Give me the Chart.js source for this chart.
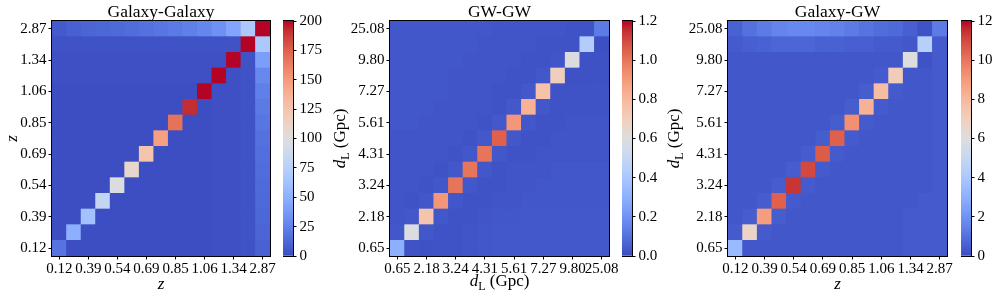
<!DOCTYPE html>
<html>
<head>
<meta charset="utf-8">
<script src="https://cdn.jsdelivr.net/npm/chart.js@4"></script>
<style>
  body { margin: 0; background: #fff; width: 996px; height: 298px; overflow: hidden; position: relative; }
  canvas { position: absolute; top: 0; }
</style>
</head>
<body>
<canvas id="gg" width="290" height="298" style="left:0px;width:290px;height:298px"></canvas>
<canvas id="ggBar" width="45" height="298" style="left:283px;width:45px;height:298px"></canvas>
<canvas id="gw" width="300" height="298" style="left:330px;width:300px;height:298px"></canvas>
<canvas id="gwBar" width="45" height="298" style="left:622px;width:45px;height:298px"></canvas>
<canvas id="ggw" width="300" height="298" style="left:664px;width:300px;height:298px"></canvas>
<canvas id="ggwBar" width="35" height="298" style="left:961px;width:35px;height:298px"></canvas>
<script>
// tick labels (every other bin)
const zTicks = ['0.12', '0.39', '0.54', '0.69', '0.85', '1.06', '1.34', '2.87'];
const dlTicks = ['0.65', '2.18', '3.24', '4.31', '5.61', '7.27', '9.80', '25.08'];

// rows go bottom -> top, columns left -> right
const galaxyGalaxy = [
    [18, 1, 1, 1, 1, 1, 1, 1, 1, 1, 1, 2, 2, 3, 10],
    [1, 50, 1, 1, 1, 1, 1, 1, 1, 1, 1, 2, 2, 3, 11],
    [1, 1, 62, 1, 1, 1, 1, 1, 1, 1, 1, 2, 2, 3, 12],
    [1, 1, 1, 82, 1, 1, 1, 1, 1, 1, 1, 2, 2, 3, 13],
    [1, 1, 1, 1, 98, 1, 1, 1, 1, 1, 1, 2, 2, 3, 14],
    [1, 1, 1, 1, 1, 109, 1, 1, 1, 1, 1, 2, 2, 3, 15],
    [1, 1, 1, 1, 1, 1, 125, 1, 1, 1, 1, 2, 2, 3, 16],
    [1, 1, 1, 1, 1, 1, 1, 147, 1, 1, 1, 2, 2, 3, 17],
    [1, 1, 1, 1, 1, 1, 1, 1, 168, 1, 1, 2, 2, 3, 19],
    [1, 1, 1, 1, 1, 1, 1, 1, 1, 192, 1, 2, 2, 3, 21],
    [1, 1, 1, 1, 1, 1, 1, 1, 1, 1, 215, 2, 2, 3, 24],
    [2, 2, 2, 2, 2, 2, 2, 2, 2, 2, 2, 235, 2, 3, 28],
    [2, 2, 2, 2, 2, 2, 2, 2, 2, 2, 2, 2, 250, 3, 40],
    [3, 3, 3, 3, 3, 3, 3, 3, 3, 3, 3, 3, 3, 250, 68],
    [6, 9, 11, 12, 13, 15, 17, 19, 21, 24, 27, 33, 44, 68, 260]
];

const gwGw = [
    [0.30, 0.02, 0.015, 0.02, 0.02, 0.025, 0.03, 0.035, 0.035, 0.035, 0.035, 0.035, 0.035, 0.035, 0.035],
    [0.03, 0.59, 0.03, 0.02, 0.02, 0.025, 0.03, 0.035, 0.035, 0.035, 0.035, 0.035, 0.035, 0.035, 0.035],
    [0.025, 0.03, 0.75, 0.03, 0.02, 0.02, 0.025, 0.03, 0.03, 0.035, 0.035, 0.035, 0.035, 0.035, 0.035],
    [0.025, 0.02, 0.03, 0.91, 0.03, 0.02, 0.02, 0.025, 0.025, 0.03, 0.03, 0.03, 0.03, 0.03, 0.03],
    [0.025, 0.025, 0.02, 0.03, 1.00, 0.03, 0.02, 0.02, 0.025, 0.025, 0.03, 0.03, 0.03, 0.03, 0.03],
    [0.025, 0.025, 0.025, 0.02, 0.03, 1.00, 0.03, 0.02, 0.025, 0.025, 0.025, 0.03, 0.03, 0.03, 0.03],
    [0.025, 0.025, 0.025, 0.025, 0.02, 0.03, 1.00, 0.03, 0.02, 0.02, 0.025, 0.025, 0.025, 0.025, 0.025],
    [0.025, 0.025, 0.025, 0.025, 0.025, 0.02, 0.035, 1.05, 0.03, 0.02, 0.02, 0.025, 0.025, 0.025, 0.025],
    [0.03, 0.03, 0.025, 0.025, 0.025, 0.025, 0.02, 0.035, 0.91, 0.03, 0.02, 0.02, 0.025, 0.025, 0.025],
    [0.03, 0.03, 0.03, 0.025, 0.025, 0.025, 0.025, 0.02, 0.035, 0.82, 0.03, 0.02, 0.02, 0.02, 0.02],
    [0.03, 0.03, 0.03, 0.03, 0.025, 0.025, 0.025, 0.02, 0.02, 0.035, 0.76, 0.02, 0.02, 0.02, 0.02],
    [0.03, 0.03, 0.03, 0.03, 0.025, 0.025, 0.025, 0.025, 0.02, 0.02, 0.03, 0.70, 0.015, 0.015, 0.015],
    [0.03, 0.03, 0.03, 0.03, 0.03, 0.025, 0.025, 0.025, 0.025, 0.02, 0.02, 0.025, 0.59, 0.015, 0.015],
    [0.03, 0.03, 0.03, 0.03, 0.03, 0.03, 0.025, 0.025, 0.025, 0.025, 0.02, 0.02, 0.02, 0.43, 0.01],
    [0.03, 0.03, 0.03, 0.03, 0.03, 0.03, 0.03, 0.025, 0.025, 0.025, 0.025, 0.025, 0.02, 0.02, 0.13]
];

const galaxyGw = [
    [3.4, 0.3, 0.3, 0.3, 0.3, 0.3, 0.3, 0.3, 0.3, 0.3, 0.3, 0.3, 0.4, 0.4, 0.4],
    [0.4, 6.7, 0.4, 0.3, 0.3, 0.3, 0.3, 0.3, 0.3, 0.3, 0.3, 0.3, 0.4, 0.4, 0.4],
    [0.3, 0.45, 8.9, 0.45, 0.3, 0.3, 0.3, 0.3, 0.3, 0.3, 0.3, 0.3, 0.4, 0.4, 0.4],
    [0.3, 0.3, 0.45, 10.5, 0.4, 0.3, 0.3, 0.3, 0.3, 0.3, 0.3, 0.3, 0.3, 0.4, 0.4],
    [0.3, 0.3, 0.3, 0.45, 11.4, 0.4, 0.3, 0.3, 0.3, 0.3, 0.3, 0.3, 0.3, 0.3, 0.4],
    [0.3, 0.3, 0.3, 0.3, 0.45, 11.0, 0.4, 0.3, 0.3, 0.3, 0.3, 0.3, 0.3, 0.3, 0.4],
    [0.3, 0.3, 0.3, 0.3, 0.3, 0.45, 10.6, 0.4, 0.3, 0.3, 0.3, 0.3, 0.3, 0.3, 0.4],
    [0.3, 0.3, 0.3, 0.3, 0.3, 0.3, 0.45, 10.5, 0.4, 0.3, 0.3, 0.3, 0.3, 0.3, 0.4],
    [0.3, 0.3, 0.3, 0.3, 0.3, 0.3, 0.3, 0.45, 9.3, 0.4, 0.3, 0.3, 0.3, 0.3, 0.4],
    [0.3, 0.3, 0.3, 0.3, 0.3, 0.3, 0.3, 0.3, 0.45, 8.2, 0.4, 0.3, 0.3, 0.3, 0.4],
    [0.3, 0.3, 0.3, 0.3, 0.3, 0.3, 0.3, 0.3, 0.3, 0.45, 7.8, 0.4, 0.3, 0.3, 0.4],
    [0.3, 0.3, 0.3, 0.3, 0.3, 0.3, 0.3, 0.3, 0.3, 0.3, 0.4, 7.1, 0.3, 0.3, 0.4],
    [0.3, 0.3, 0.3, 0.3, 0.3, 0.3, 0.3, 0.3, 0.3, 0.3, 0.3, 0.3, 6.0, 0.2, 0.4],
    [0.4, 0.5, 0.6, 0.7, 0.7, 0.7, 0.6, 0.6, 0.5, 0.5, 0.4, 0.4, 0.3, 4.5, 0.4],
    [0.6, 1.0, 1.3, 1.6, 1.7, 1.7, 1.6, 1.5, 1.3, 1.1, 0.9, 0.8, 0.5, 0.2, 1.3]
];

// matplotlib coolwarm (Moreland), 33 stops
const COOLWARM = [
    [59, 76, 192], [68, 90, 204], [77, 104, 215], [87, 117, 225], [98, 130, 234],
    [108, 142, 241], [119, 154, 247], [130, 165, 251], [141, 176, 254], [152, 185, 255],
    [163, 194, 255], [174, 201, 253], [184, 208, 249], [194, 213, 244], [204, 217, 238],
    [213, 219, 230], [221, 221, 221], [229, 216, 209], [236, 211, 197], [241, 204, 185],
    [245, 196, 173], [247, 187, 160], [247, 177, 148], [247, 166, 135], [244, 154, 123],
    [241, 141, 111], [236, 127, 99], [229, 112, 88], [222, 96, 77], [213, 80, 66],
    [203, 62, 56], [192, 40, 47], [180, 4, 38]
];

function coolwarm(t) {
    t = Math.max(0, Math.min(1, t));
    const p = t * (COOLWARM.length - 1);
    const i = Math.min(Math.floor(p), COOLWARM.length - 2);
    const f = p - i;
    const a = COOLWARM[i], b = COOLWARM[i + 1];
    const c = a.map((v, k) => Math.round(v + (b[k] - v) * f));
    return `rgb(${c[0]},${c[1]},${c[2]})`;
}

const SERIF = "'Liberation Serif', 'Times New Roman', serif";
const tickFont = { family: SERIF, size: 15 };

const zLabel = [{ t: 'z', it: true }];
const dlLabel = [{ t: 'd', it: true }, { t: 'L', sub: true }, { t: ' (Gpc)' }];

function partFont(p) {
    return (p.it ? 'italic ' : '') + (p.sub ? 12 : 17) + 'px ' + SERIF;
}

function drawRich(ctx, parts, x, y) {
    let w = 0;
    parts.forEach(p => { ctx.font = partFont(p); w += ctx.measureText(p.t).width; });
    let cx = x - w / 2;
    parts.forEach(p => {
        ctx.font = partFont(p);
        ctx.fillText(p.t, cx, y + (p.sub ? 4 : 0));
        cx += ctx.measureText(p.t).width;
    });
}

const panelText = {
    id: 'panelText',
    afterDraw(chart, args, opts) {
        const { ctx, chartArea: { left, right, top, bottom } } = chart;
        const cx = (left + right) / 2;
        ctx.save();
        ctx.fillStyle = '#000';
        ctx.textAlign = 'left';
        ctx.textBaseline = 'alphabetic';
        ctx.font = '17.5px ' + SERIF;
        const tw = ctx.measureText(opts.title).width;
        ctx.fillText(opts.title, cx - tw / 2, 17);
        drawRich(ctx, opts.xLabel, cx, opts.xLabelY);
        ctx.translate(opts.yLabelX, (top + bottom) / 2);
        ctx.rotate(-Math.PI / 2);
        drawRich(ctx, opts.yLabel, 0, 0);
        ctx.restore();
    }
};

const frame = {
    id: 'frame',
    beforeDatasetsDraw(chart, args, opts) {
        if (!opts.fill) return;
        const { ctx, chartArea: a } = chart;
        ctx.save();
        ctx.fillStyle = opts.fill;
        ctx.fillRect(a.left, a.top, a.width, a.height);
        ctx.restore();
    },
    afterDraw(chart) {
        const { ctx, chartArea: a } = chart;
        ctx.save();
        ctx.strokeStyle = '#000';
        ctx.lineWidth = 1;
        ctx.strokeRect(a.left - 0.5, a.top - 0.5, a.width + 1, a.height + 1);
        ctx.restore();
    }
};

function heatmap(id, matrix, vmax, xTicks, yTicks, title, xLabel, yLabel, yAxisWidth, padRight, yLabelX, xLabelY) {
    const n = matrix.length;
    const datasets = matrix.map(row => ({
        data: row.map(() => 1),
        backgroundColor: row.map(v => coolwarm(v / vmax)),
        borderWidth: 0,
        barPercentage: 1,
        categoryPercentage: 1
    }));
    new Chart(document.getElementById(id), {
        type: 'bar',
        data: { labels: matrix[0].map((_, i) => String(i)), datasets },
        options: {
            responsive: false,
            animation: false,
            layout: { padding: { top: 21, right: padRight, left: 0, bottom: 0 } },
            plugins: {
                legend: { display: false },
                tooltip: { enabled: false },
                panelText: { title, xLabel, yLabel, yLabelX, xLabelY },
                frame: { fill: coolwarm(0.01) }
            },
            scales: {
                x: {
                    stacked: true,
                    afterFit: s => { s.height = 42; s.paddingLeft = 0; s.paddingRight = 0; },
                    ticks: {
                        autoSkip: false, maxRotation: 0, color: '#000', font: tickFont, padding: 1,
                        callback: (v, i) => (i % 2 === 0 ? xTicks[i / 2] : null)
                    },
                    grid: { offset: false, drawOnChartArea: false, tickLength: 3.5, tickColor: '#000' },
                    border: { display: false }
                },
                y: {
                    stacked: true, min: 0, max: n,
                    afterBuildTicks: s => { s.ticks = yTicks.map((_, i) => ({ value: 2 * i + 0.5 })); },
                    afterFit: s => { s.width = yAxisWidth; s.paddingTop = 0; s.paddingBottom = 0; },
                    ticks: {
                        autoSkip: false, color: '#000', font: tickFont, padding: 2,
                        callback: v => yTicks[Math.round((v - 0.5) / 2)]
                    },
                    grid: { drawOnChartArea: false, tickLength: 3.5, tickColor: '#000' },
                    border: { display: false }
                }
            }
        },
        plugins: [frame, panelText]
    });
}

function colorbar(id, vmax, step, decimals, axisWidth) {
    new Chart(document.getElementById(id), {
        type: 'bar',
        data: {
            labels: [''],
            datasets: [{
                data: [[0, vmax]],
                borderWidth: 0,
                barPercentage: 1,
                categoryPercentage: 1,
                backgroundColor: c => {
                    const chart = c.chart;
                    if (!chart.chartArea) return null;
                    const y = chart.scales.y;
                    const g = chart.ctx.createLinearGradient(0, y.getPixelForValue(0), 0, y.getPixelForValue(vmax));
                    COOLWARM.forEach((col, i) => g.addColorStop(i / (COOLWARM.length - 1), `rgb(${col.join(',')})`));
                    return g;
                }
            }]
        },
        options: {
            responsive: false,
            animation: false,
            layout: { padding: { top: 21, bottom: 42, left: 0, right: 0 } },
            plugins: { legend: { display: false }, tooltip: { enabled: false }, frame: {} },
            scales: {
                x: { display: false },
                y: {
                    position: 'right', min: 0, max: vmax,
                    afterFit: s => { s.width = axisWidth; s.paddingTop = 0; s.paddingBottom = 0; },
                    ticks: { stepSize: step, color: '#000', font: tickFont, padding: 3, callback: v => v.toFixed(decimals) },
                    grid: { drawOnChartArea: false, tickLength: 3.5, tickColor: '#000' },
                    border: { display: false }
                }
            }
        },
        plugins: [frame]
    });
}

heatmap('gg', galaxyGalaxy, 200, zTicks, zTicks, 'Galaxy-Galaxy', zLabel, zLabel, 52, 20, 17, 289);
heatmap('gw', gwGw, 1.2, dlTicks, dlTicks, 'GW-GW', dlLabel, dlLabel, 60, 21, 15, 286);
heatmap('ggw', galaxyGw, 12, zTicks, dlTicks, 'Galaxy-GW', zLabel, dlLabel, 64, 17, 15, 289);

colorbar('ggBar', 200, 25, 0, 35);
colorbar('gwBar', 1.2, 0.2, 1, 35);
colorbar('ggwBar', 12, 2, 0, 25);
</script>
</body>
</html>
